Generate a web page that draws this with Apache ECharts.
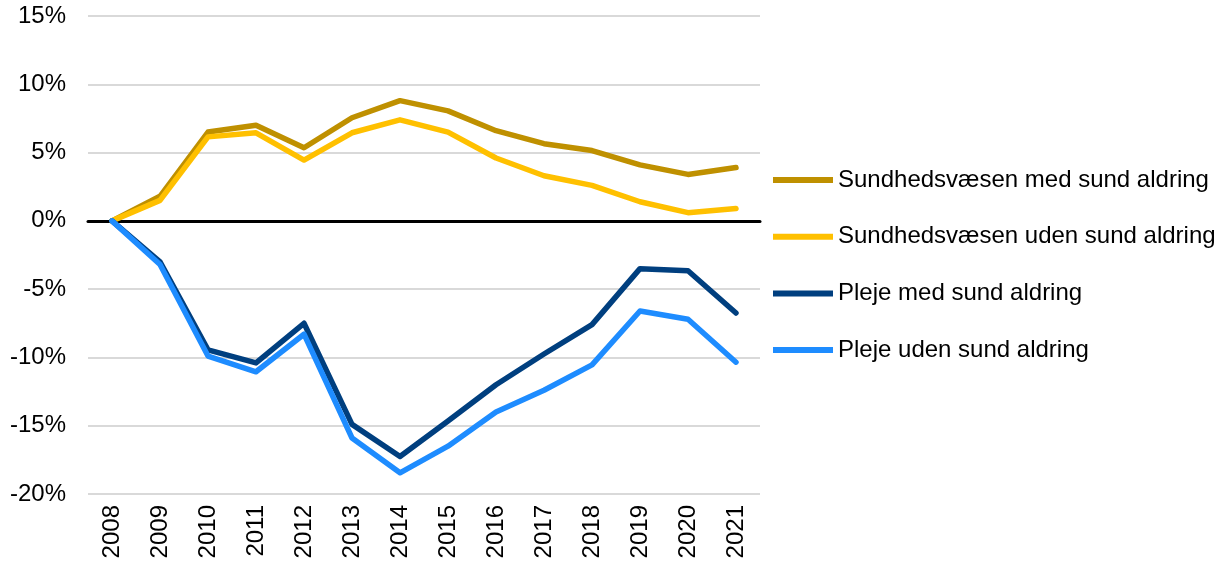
<!DOCTYPE html>
<html>
<head>
<meta charset="utf-8">
<script src="https://cdn.jsdelivr.net/npm/echarts@6/dist/echarts.min.js"></script>
<style>
  html, body { margin: 0; padding: 0; background: #fff; }
  #chart { width: 1224px; height: 562px; }
</style>
</head>
<body>
<div id="chart"></div>
<script>
var years = ['2008', '2009', '2010', '2011', '2012', '2013', '2014', '2015', '2016', '2017', '2018', '2019', '2020', '2021']

var sundhedMed = [0, 1.8, 6.5, 7.0, 5.35, 7.55, 8.8, 8.05, 6.6, 5.65, 5.15, 4.1, 3.4, 3.9]
var sundhedUden = [0, 1.5, 6.15, 6.45, 4.45, 6.45, 7.4, 6.5, 4.6, 3.3, 2.6, 1.4, 0.6, 0.9]
var plejeMed = [0, -3.0, -9.45, -10.4, -7.5, -14.9, -17.25, -14.65, -12.0, -9.75, -7.6, -3.5, -3.65, -6.75]
var plejeUden = [0, -3.2, -9.9, -11.05, -8.3, -15.9, -18.45, -16.5, -14.0, -12.4, -10.55, -6.6, -7.2, -10.35]

var seriesNames = [
  'Sundhedsvæsen med sund aldring',
  'Sundhedsvæsen uden sund aldring',
  'Pleje med sund aldring',
  'Pleje uden sund aldring'
]
var colors = ['#BF9000', '#FFC000', '#003F7F', '#1E8CFF']

var chart = echarts.init(document.getElementById('chart'))

var allData = [sundhedMed, sundhedUden, plejeMed, plejeUden]
var series = allData.map(function(d, i) {
  return {
    name: seriesNames[i],
    type: 'line',
    data: d,
    symbol: 'none',
    showSymbol: false,
    lineStyle: { color: colors[i], width: 5.5, cap: 'round', join: 'round' },
    itemStyle: { color: colors[i] },
    animation: false
  }
})

chart.setOption({
  backgroundColor: '#fff',
  textStyle: { fontFamily: 'Liberation Sans, Arial, sans-serif' },
  grid: { left: 88, right: 464, top: 16, bottom: 68 },
  legend: {
    orient: 'vertical',
    left: 768,
    top: 163,
    itemWidth: 60,
    itemHeight: 24,
    itemGap: 32.7,
    icon: 'path://M0,0 L60,0 L60,6 L0,6 Z',
    data: seriesNames,
    textStyle: { fontSize: 24, color: '#000' }
  },
  xAxis: {
    type: 'category',
    data: years,
    boundaryGap: true,
    axisLine: { onZero: true, lineStyle: { color: '#000', width: 3 } },
    axisTick: { show: false },
    axisLabel: { rotate: 90, fontSize: 24, color: '#000', margin: 11, interval: 0 },
    splitLine: { show: false }
  },
  yAxis: {
    type: 'value',
    min: -20,
    max: 15,
    interval: 5,
    axisLine: { show: false },
    axisTick: { show: false },
    axisLabel: { fontSize: 24, color: '#000', margin: 22, formatter: '{value}%' },
    splitLine: { lineStyle: { color: '#D9D9D9', width: 2 } }
  },
  series: series
})
</script>
</body>
</html>
